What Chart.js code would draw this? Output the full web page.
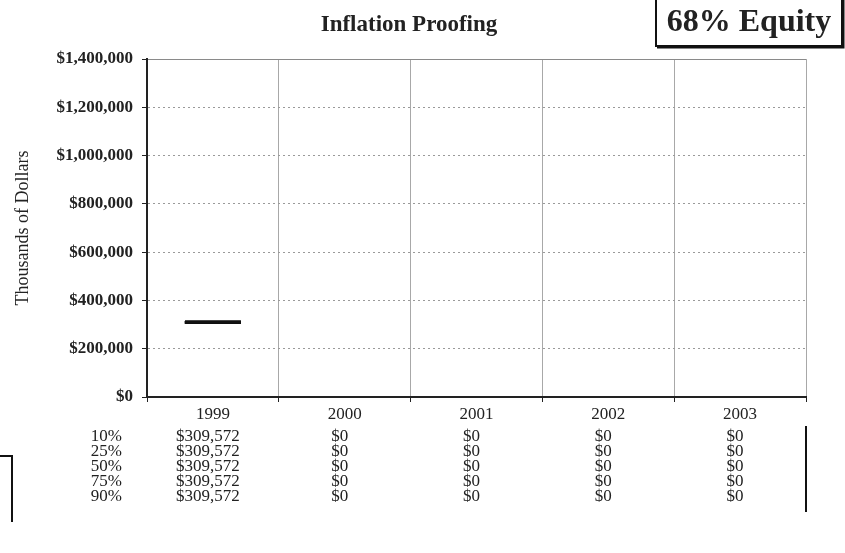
<!DOCTYPE html>
<html>
<head>
<meta charset="utf-8">
<script src="https://cdn.jsdelivr.net/npm/chart.js@4"></script>
<style>
  html, body { margin: 0; padding: 0; background: #fff; }
  canvas { display: block; }
</style>
</head>
<body>
<canvas id="chart" width="845" height="553"></canvas>
<script>
const years = ['1999', '2000', '2001', '2002', '2003'];
const percentiles = ['10%', '25%', '50%', '75%', '90%'];
const p10 = [309572, 0, 0, 0, 0];
const p25 = [309572, 0, 0, 0, 0];
const p50 = [309572, 0, 0, 0, 0];
const p75 = [309572, 0, 0, 0, 0];
const p90 = [309572, 0, 0, 0, 0];
const yTicks = [0, 200000, 400000, 600000, 800000, 1000000, 1200000, 1400000];

const rows = [p10, p25, p50, p75, p90];
const serif = '"Liberation Serif", "DejaVu Serif", serif';
const money = (v) => '$' + v.toLocaleString('en-US');

// title, equity box and the value table under the axis
const extras = {
  id: 'extras',
  afterDraw(chart) {
    const ctx = chart.ctx;
    const x = chart.scales.x;
    ctx.save();
    ctx.fillStyle = '#222';
    ctx.textBaseline = 'middle';

    ctx.font = 'bold 23px ' + serif;
    ctx.textAlign = 'center';
    ctx.fillText('Inflation Proofing', 409, 25);

    ctx.strokeStyle = '#111';
    ctx.lineWidth = 2;
    ctx.strokeRect(656, -2, 186, 48);
    ctx.lineWidth = 3;
    ctx.beginPath();
    ctx.moveTo(657, 47);
    ctx.lineTo(843, 47);
    ctx.lineTo(843, 0);
    ctx.stroke();
    ctx.font = 'bold 32px ' + serif;
    ctx.fillText('68% Equity', 749, 23);

    ctx.font = '17px ' + serif;
    rows.forEach((row, r) => {
      const y = 437 + r * 15;
      ctx.textAlign = 'right';
      ctx.fillText(percentiles[r], 122, y);
      ctx.textAlign = 'center';
      row.forEach((v, i) => {
        ctx.fillText(money(v), x.getPixelForValue(i) - 5, y);
      });
    });

    ctx.lineWidth = 2;
    ctx.beginPath();
    ctx.moveTo(806, 426);
    ctx.lineTo(806, 512);
    ctx.moveTo(0, 456);
    ctx.lineTo(12, 456);
    ctx.lineTo(12, 522);
    ctx.stroke();
    ctx.restore();
  }
};

// dash markers; the zero points sit on the axis and are left undrawn
const marker = (label, data) => ({
  label: label,
  data: data,
  showLine: false,
  pointStyle: 'line',
  pointRadius: (c) => (c.raw === 0 ? 0 : 28),
  pointBorderWidth: 3,
  borderColor: '#111',
  backgroundColor: '#111',
  clip: false
});

new Chart(document.getElementById('chart'), {
  type: 'line',
  data: {
    labels: years,
    datasets: [
      marker('10%', p10),
      marker('25%', p25),
      marker('50%', p50),
      marker('75%', p75),
      marker('90%', p90)
    ]
  },
  options: {
    responsive: false,
    animation: false,
    devicePixelRatio: 1,
    layout: { padding: { top: 59, right: 39, bottom: 126, left: 0 } },
    plugins: {
      legend: { display: false },
      tooltip: { enabled: false }
    },
    scales: {
      x: {
        offset: true,
        afterFit: (s) => { s.height = 30; },
        grid: {
          offset: true,
          color: '#a8a8a8',
          lineWidth: 1,
          tickColor: '#222',
          tickLength: 5
        },
        border: { color: '#222', width: 2 },
        ticks: {
          color: '#222',
          padding: 2,
          autoSkip: false,
          maxRotation: 0,
          font: { family: serif, size: 17 }
        }
      },
      y: {
        min: 0,
        max: 1400000,
        afterFit: (s) => { s.width = 147; },
        afterBuildTicks: (s) => { s.ticks = yTicks.map((v) => ({ value: v })); },
        title: {
          display: true,
          text: 'Thousands of Dollars',
          color: '#222',
          padding: { top: 12, bottom: 0 },
          font: { family: serif, size: 18 }
        },
        grid: {
          color: (c) => (c.tick && c.tick.value === 1400000 ? '#8a8a8a' : '#9a9a9a'),
          lineWidth: 1,
          tickColor: '#222',
          tickLength: 5
        },
        border: {
          color: '#222',
          width: 2,
          dash: (c) => (c.tick && c.tick.value === 1400000 ? [] : [2, 3])
        },
        ticks: {
          color: '#222',
          padding: 9,
          font: { family: serif, size: 17, weight: 'bold' },
          callback: (v) => money(v)
        }
      }
    }
  },
  plugins: [extras]
});
</script>
</body>
</html>
